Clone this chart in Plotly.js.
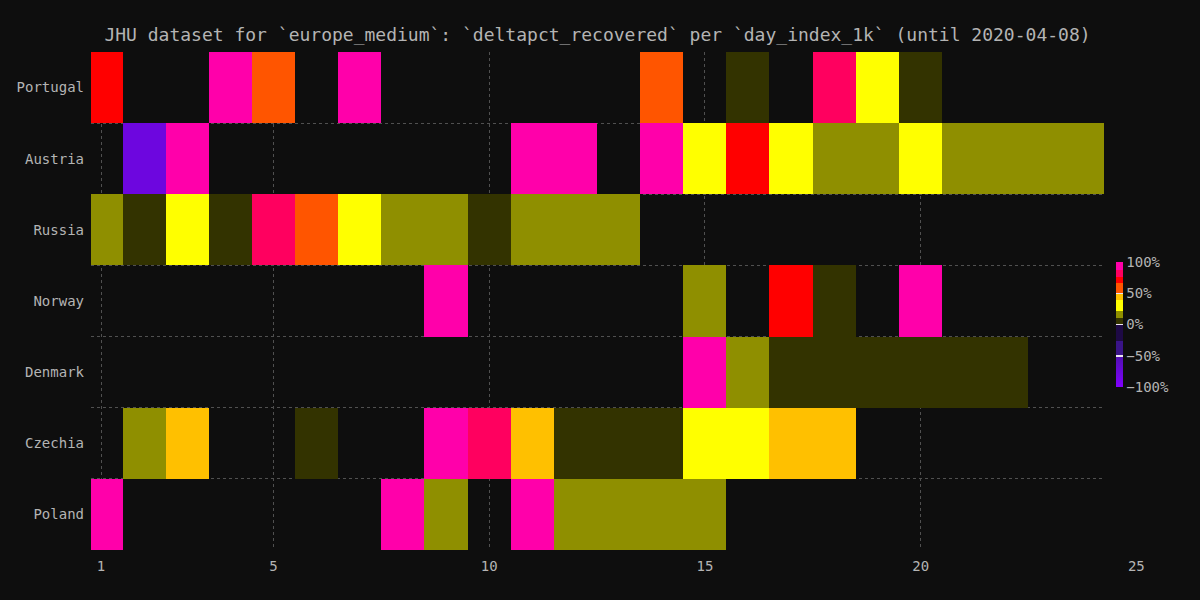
<!DOCTYPE html>
<html>
<head>
<meta charset="utf-8">
<script src="https://cdn.plot.ly/plotly-3.0.1.min.js"></script>
<style>
html, body { margin: 0; padding: 0; background: #0e0e0e; }
#chart { width: 1200px; height: 600px; }
</style>
</head>
<body>
<div id="chart"></div>
<script>
// ---- data (deltapct_recovered as fractions; null = no value) ----
const days = [1, 2, 3, 4, 5, 6, 7, 8, 9, 10, 11, 12, 13, 14, 15, 16, 17, 18, 19, 20, 21, 22, 23, 24];
const countries = ['Portugal', 'Austria', 'Russia', 'Norway', 'Denmark', 'Czechia', 'Poland'];
const n = null;
const portugal = [0.72, n, n, 1.00, 0.58, n, 1.00, n, n, n, n, n, n, 0.60, n, 0.05, n, 0.82, 0.30, 0.06, n, n, n, n];
const austria  = [n, -0.80, 1.00, n, n, n, n, n, n, n, 1.00, 1.00, n, 1.00, 0.33, 0.71, 0.29, 0.17, 0.15, 0.30, 0.14, 0.15, 0.13, 0.14];
const russia   = [0.15, 0.05, 0.30, 0.05, 0.80, 0.60, 0.30, 0.16, 0.14, 0.06, 0.15, 0.14, 0.13, n, n, n, n, n, n, n, n, n, n, n];
const norway   = [n, n, n, n, n, n, n, n, 1.00, n, n, n, n, n, 0.15, n, 0.70, 0.06, n, 1.00, n, n, n, n];
const denmark  = [n, n, n, n, n, n, n, n, n, n, n, n, n, n, 1.00, 0.15, 0.05, 0.04, 0.05, 0.06, 0.04, 0.05, n, n];
const czechia  = [n, 0.15, 0.45, n, n, 0.05, n, n, 1.00, 0.80, 0.45, 0.05, 0.04, 0.05, 0.30, 0.32, 0.44, 0.45, n, n, n, n, n, n];
const poland   = [1.00, n, n, n, n, n, n, 1.00, 0.16, n, 1.00, 0.15, 0.14, 0.15, 0.13, n, n, n, n, n, n, n, n, n];
const xTicks = [1, 5, 10, 15, 20, 25];
const cbTicks = [-1, -0.5, 0, 0.5, 1];
const titleText = 'JHU dataset for `europe_medium`: `deltapct_recovered` per `day_index_1k` (until 2020-04-08)';

const zRows = [portugal, austria, russia, norway, denmark, czechia, poland];

// stepped colour scale over z in [-1, 1]
const colorscale = [
  [0.000, '#8000ff'], [0.250, '#5010b0'],
  [0.250, '#3a1488'], [0.370, '#3a1488'],
  [0.370, '#1e0a45'], [0.500, '#1e0a45'],
  [0.500, '#333300'], [0.550, '#333300'],
  [0.550, '#8f8f00'], [0.605, '#8f8f00'],
  [0.605, '#ffff00'], [0.695, '#ffff00'],
  [0.695, '#ffc000'], [0.750, '#ffc000'],
  [0.750, '#ff5500'], [0.830, '#ff5500'],
  [0.830, '#ff0000'], [0.880, '#ff0000'],
  [0.880, '#ff005f'], [0.935, '#ff005f'],
  [0.935, '#ff00aa'], [1.000, '#ff00aa']
];

const FONT = '"DejaVu Sans Mono", "Liberation Mono", monospace';
const TXT = '#b4b4b4';
const BG = '#0e0e0e';
const GRID = '#505050';

// geometry (pixels)
const L = 91, R = 50, T = 52, B = 50;
const paperW = 1200 - L - R;
const plotRight = 1104;
const mainDomainEnd = (plotRight - L) / paperW;
const xMin = 0.768, xMax = 24.25;
const pxPerUnit = (plotRight - L) / (xMax - xMin);

const heat = {
  type: 'heatmap',
  x: days,
  y: countries,
  z: zRows,
  zmin: -1,
  zmax: 1,
  colorscale: colorscale,
  hoverinfo: 'skip',
  xaxis: 'x',
  yaxis: 'y',
  colorbar: {
    x: (1116 - L) / paperW,
    xanchor: 'left',
    xpad: 0,
    y: (550 - 324.5) / (600 - T - B),
    yanchor: 'middle',
    ypad: 0,
    len: 125,
    lenmode: 'pixels',
    thickness: 7,
    outlinewidth: 0,
    ticks: 'inside',
    ticklen: 7,
    tickwidth: 1.5,
    tickcolor: '#ece4f4',
    tickvals: cbTicks,
    tickformat: '.0%',
    tickfont: { family: FONT, size: 14, color: TXT },
    bgcolor: 'rgba(0,0,0,0)'
  }
};

// carrier for the bottom tick-label axis (draws nothing)
const axisCarrier = {
  type: 'scatter',
  mode: 'none',
  x: [xMin],
  y: [0.5],
  xaxis: 'x2',
  yaxis: 'y2',
  hoverinfo: 'skip',
  showlegend: false
};

const layout = {
  width: 1200,
  height: 600,
  paper_bgcolor: BG,
  plot_bgcolor: 'rgba(0,0,0,0)',
  margin: { l: L, r: R, t: T, b: B, autoexpand: false },
  font: { family: FONT, size: 14, color: TXT },
  title: {
    text: titleText,
    font: { family: FONT, size: 18, color: TXT },
    xref: 'container', x: 597.5 / 1200, xanchor: 'center',
    yref: 'container', y: 1 - 35 / 600, yanchor: 'middle'
  },
  xaxis: {
    domain: [0, mainDomainEnd],
    range: [xMin, xMax],
    anchor: 'y',
    tickmode: 'array',
    tickvals: xTicks,
    showticklabels: false,
    ticks: '',
    showgrid: true,
    gridcolor: GRID,
    griddash: '3px,3px',
    gridwidth: 1,
    zeroline: false,
    showline: false
  },
  yaxis: {
    type: 'category',
    autorange: 'reversed',
    anchor: 'x',
    tickson: 'boundaries',
    ticks: '',
    showgrid: true,
    gridcolor: GRID,
    griddash: '3px,3px',
    gridwidth: 1,
    zeroline: false,
    showline: false,
    tickfont: { family: FONT, size: 14, color: TXT },
    ticklabelstandoff: 6
  },
  xaxis2: {
    domain: [0, 1],
    range: [xMin, xMin + paperW / pxPerUnit],
    anchor: 'y2',
    tickmode: 'array',
    tickvals: xTicks,
    ticks: '',
    showticklabels: true,
    ticklabelstandoff: 6,
    showgrid: false,
    zeroline: false,
    showline: false,
    tickfont: { family: FONT, size: 14, color: TXT }
  },
  yaxis2: {
    domain: [0, 1],
    anchor: 'x2',
    range: [0, 1],
    showticklabels: false,
    ticks: '',
    showgrid: false,
    zeroline: false,
    showline: false
  },
  showlegend: false
};

Plotly.newPlot('chart', [heat, axisCarrier], layout, { displayModeBar: false, staticPlot: true });
</script>
</body>
</html>
